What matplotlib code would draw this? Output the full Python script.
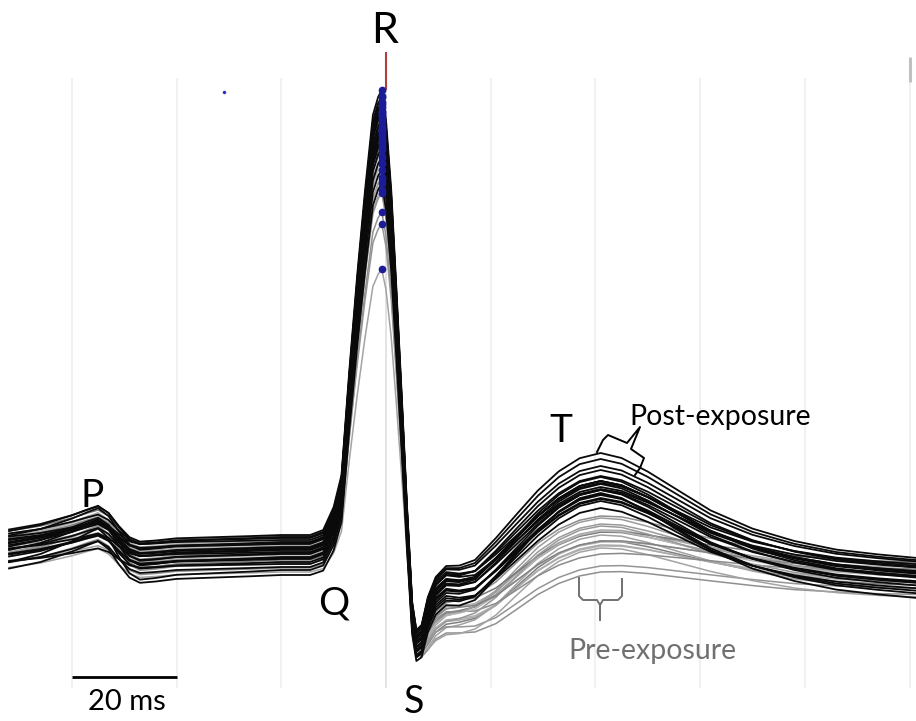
import numpy as np
import matplotlib.pyplot as plt

plt.rcParams['font.family'] = ['Lato', 'DejaVu Sans']

# pixel scale of the original figure: 20 ms grid = 104.7 px, 1 unit = 100 px
PX_PER_MS = 104.7 / 20
R_X, BASE_Y = 386, 550


def px(x, y):
    return (x - R_X) / PX_PER_MS, (BASE_Y - y) / 100.0


# time grid (ms, relative to R line)
t_ms = [-72, -66, -60, -57, -55, -53, -51, -49, -47, -44,
        -40, -33, -26, -20, -14.5, -12, -10, -8.5, -7, -5.5,
        -4, -2.5, -1.5, -0.8, 0, 1, 2, 3, 4, 5,
        5.8, 6.8, 8, 9.5, 11.5, 14, 17, 21, 25, 29,
        33, 37, 41, 45, 50, 56, 62, 70, 78, 86,
        94, 101.5]

# P wave
p_wave = [0.05, 0.10, 0.18, 0.23, 0.26, 0.20, 0.08, -0.02, -0.06, -0.05,
          -0.03, -0.02, -0.01, 0.0, 0.0] + [0.0] * 37

# QRS complex
qrs = [0.0] * 15 + [0.05, 0.28, 0.6, 1.65, 2.6, 3.45, 4.2, 4.38, 4.45, 4.15,
                    3.45, 2.45, 1.4, 0.3, -0.62, -0.75, -0.65, -0.4, -0.2, -0.07] + [0.0] * 17

# ST-T segment, post- and pre-exposure averages
post_st = [0.0] * 29 + [-0.05, -0.2, -0.25, -0.22, -0.22, -0.25, -0.33, -0.30, -0.12, 0.08, 0.28,
                        0.45, 0.57, 0.62, 0.58, 0.47, 0.31, 0.15, 0.0, -0.1, -0.17,
                        -0.21, -0.24]
pre_st = [0.0] * 29 + [-0.1, -0.25, -0.37, -0.5, -0.55, -0.59, -0.64, -0.62, -0.52, -0.36, -0.2,
                       -0.08, 0.0, 0.04, 0.04, 0.01, -0.04, -0.09, -0.15, -0.2, -0.23,
                       -0.25, -0.26]
# T wave spread between beats
t_spread = [0.0] * 34 + [0.05, 0.12, 0.25, 0.45, 0.65, 0.82,
                         0.93, 0.99, 1.0, 0.95, 0.82, 0.65, 0.48, 0.32, 0.2, 0.12,
                         0.08, 0.05]

# post-exposure beats
post_shift = [0.15, 0.12, 0.08, 0.06, 0.03, 0.01, -0.02, -0.04, -0.07, -0.09, -0.12,
              -0.14, -0.17, 0.13, 0.07, 0.02, -0.03, -0.08, -0.20, -0.25, 0.10, 0.00]
post_r = [1.0, 0.98, 1.0, 0.97, 0.96, 0.98, 0.95, 0.97, 0.94, 0.96, 0.93,
          0.95, 0.92, 0.99, 0.97, 0.99, 0.94, 0.96, 0.90, 0.88, 0.98, 0.95]
post_t = [0.20, 0.10, 0.04, 0.12, -0.02, 0.06, 0.0, 0.08, -0.04, 0.02, 0.10,
          -0.06, 0.04, 0.16, -0.08, 0.05, 0.14, -0.02, 0.14, 0.20, -0.05, 0.07]
post_p = [1.1, 0.9, 1.3, 0.8, 1.0, 1.2, 0.7, 1.0, 1.4, 0.9, 1.1,
          0.6, 1.0, 1.2, 0.8, 1.0, 1.3, 0.9, 1.6, 1.3, 0.7, 1.0]

# pre-exposure beats
pre_shift = [0.12, 0.06, 0.0, -0.05, -0.10, -0.14, -0.18, 0.09, 0.02, -0.02,
             -0.07, -0.12, 0.14, -0.22, 0.04, -0.01, -0.08, 0.07]
pre_r = [0.95, 0.92, 0.90, 0.88, 0.86, 0.84, 0.80, 0.93, 0.91, 0.89,
         0.85, 0.76, 0.94, 0.68, 0.90, 0.87, 0.82, 0.93]
pre_t = [0.18, 0.10, 0.22, 0.05, 0.15, 0.25, -0.08, -0.05, 0.12, 0.30,
         0.08, -0.08, 0.0, 0.20, -0.12, 0.16, 0.28, -0.02]
pre_p = [0.9, 1.2, 0.8, 1.0, 1.3, 0.7, 1.1, 1.0, 0.9, 1.2,
         0.8, 1.4, 1.0, 0.9, 1.1, 0.7, 1.2, 1.0]
pre_colors = ['#8c8c8c', '#a6a6a6', '#9a9a9a', '#b3b3b3', '#7f7f7f', '#a0a0a0',
              '#909090', '#b0b0b0', '#858585', '#9c9c9c', '#aaaaaa', '#959595',
              '#777777', '#a3a3a3', '#8a8a8a', '#b5b5b5', '#989898', '#828282']

grid_ms = [-60, -40, -20, 20, 40, 60, 80, 100]
scale_ms = 20

t = np.array(t_ms)
P, QRS = np.array(p_wave), np.array(qrs)
POST, PRE, TS = np.array(post_st), np.array(pre_st), np.array(t_spread)

fig = plt.figure(figsize=(9.16, 7.21), dpi=100)
ax = fig.add_axes([0, 0, 1, 1])
x0, y0 = px(0, 721)
x1, y1 = px(916, 0)
ax.set_xlim(x0, x1)
ax.set_ylim(y0, y1)
ax.axis('off')

# grid
g_lo, g_hi = px(0, 688)[1], px(0, 78)[1]
ax.vlines(grid_ms, g_lo, g_hi, color='#f0f0f0', lw=1.3, zorder=0)
ax.vlines(0, g_lo, px(0, 90)[1], color='#e4e4e4', lw=1.4, zorder=0)
ax.vlines(0, px(0, 90)[1], px(0, 52)[1], color='#b04040', lw=1.5, zorder=0)
ax.vlines(100, px(0, 82)[1], px(0, 57)[1], color='#c0c0c0', lw=2.2, zorder=0)

peaks = []
for s, r, tt, p, c in zip(pre_shift, pre_r, pre_t, pre_p, pre_colors):
    y = s + p * P + r * QRS + PRE + tt * TS
    ax.plot(t, y, color=c, lw=1.1, zorder=2)
    peaks.append((t[np.argmax(y)], y.max()))

for s, r, tt, p in zip(post_shift, post_r, post_t, post_p):
    y = s + p * P + r * QRS + POST + tt * TS
    ax.plot(t, y, color='#0a0a0a', lw=1.3, zorder=3)
    peaks.append((t[np.argmax(y)], y.max()))

pk = np.array(peaks)
ax.plot(pk[:, 0], pk[:, 1], 'o', color='#1c1c99', ms=4.5, zorder=4)
ax.plot(*px(224, 92), 'o', color='#3030c0', ms=1.5)

# wave labels
for lab, x, y, fs in [('P', 92, 507, 28), ('Q', 334, 614, 28), ('R', 385, 43, 31),
                      ('S', 414, 713, 27), ('T', 561, 442, 28)]:
    ax.text(*px(x, y), lab, fontsize=fs, ha='center', va='baseline')

ax.text(*px(629, 425), 'Post-exposure', fontsize=20.5, ha='left', va='baseline')
ax.text(*px(568, 659), 'Pre-exposure', fontsize=20.5, ha='left', va='baseline', color='#707070')

# braces
post_brace = [(597, 452), (603, 440), (608, 435), (627, 443), (640, 427),
              (631, 449), (644, 458), (640, 468), (635, 475)]
pre_brace = [(579, 578), (579, 596), (583, 600), (597, 600), (600, 605), (600, 620),
             (600, 605), (603, 600), (618, 600), (622, 596), (622, 579)]
bx, by = zip(*[px(a, b) for a, b in post_brace])
ax.plot(bx, by, color='black', lw=1.4, zorder=5)
bx, by = zip(*[px(a, b) for a, b in pre_brace])
ax.plot(bx, by, color='#707070', lw=1.4, zorder=5)

# scale bar
sb_y = px(0, 677)[1]
ax.plot([-60, -60 + scale_ms], [sb_y, sb_y], color='black', lw=2, solid_capstyle='butt')
ax.text(*px(127, 710), f'{scale_ms} ms', fontsize=21, ha='center', va='baseline')

fig.savefig('out.png', dpi=100)
